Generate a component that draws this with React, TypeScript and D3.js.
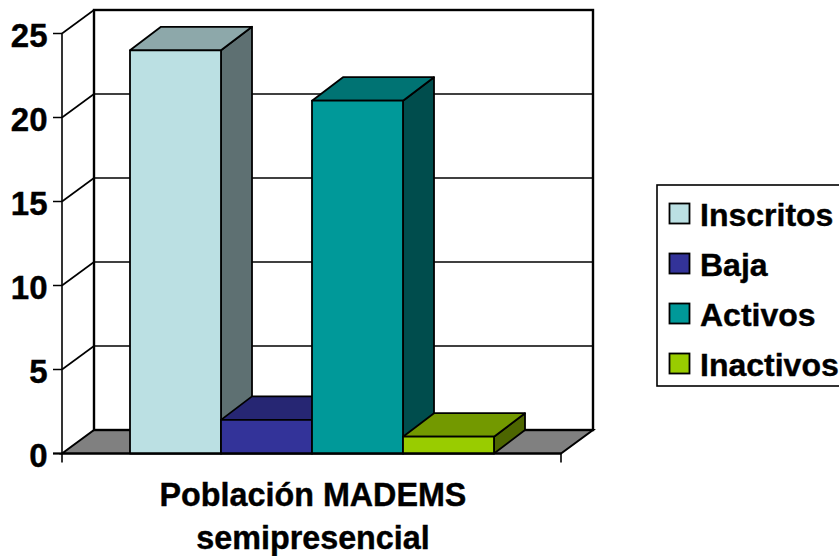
import React from "react";
import * as d3 from "d3";

const seriesNames = ["Inscritos", "Baja", "Activos", "Inactivos"];
const seriesValues = [24, 2, 21, 1];
const frontColors = ["#BBE0E3", "#333399", "#009999", "#99CC00"];
const topColors = ["#8DA8AA", "#262673", "#007373", "#739900"];
const sideColors = ["#5E7072", "#1A1A4D", "#004D4D", "#4D6600"];
const yTicks = [0, 5, 10, 15, 20, 25];
const categoryLines = ["Población MADEMS", "semipresencial"];

const FONT = "'Liberation Sans', Arial, sans-serif";
const DX = 32;
const DY = 23.5;
const y = d3.scaleLinear().domain([0, 25]).range([453.5, 33.5]);
const x = d3.scaleBand().domain(seriesNames).range([130, 494]);
const X0 = 62;
const X1 = 561;
const INK = "#000";

export default function App() {
  const line = d3.line();
  const poly = (pts: [number, number][]) => line(pts) + "Z";
  return (
    <svg width={839} height={556} style={{ position: "absolute", left: 0, top: 0, background: "#fff" }} fontFamily={FONT} fontWeight="bold">
      {/* floor */}
      <path d={poly([[X0, y(0)], [X0 + DX, y(0) - DY], [X1 + DX, y(0) - DY], [X1, y(0)]])} fill="#808080" stroke={INK} strokeWidth={2} />
      {/* back wall */}
      <rect x={X0 + DX} y={y(25) - DY} width={X1 - X0} height={y(0) - y(25)} fill="#fff" stroke={INK} strokeWidth={2.4} />
      <line x1={X0} x2={X0} y1={y(25)} y2={y(0) + 9} stroke={INK} strokeWidth={1.6} />
      {yTicks.map((t) => (
        <g key={t}>
          {t > 0 && t < 25 && (
            <line x1={X0 + DX} x2={X1 + DX} y1={y(t) - DY} y2={y(t) - DY} stroke={INK} strokeWidth={1.5} />
          )}
          {t > 0 && <line x1={X0} x2={X0 + DX} y1={y(t)} y2={y(t) - DY} stroke={INK} strokeWidth={1.6} />}
          <line x1={X0 - 9} x2={X0} y1={y(t)} y2={y(t)} stroke={INK} strokeWidth={1.5} />
          <text x={47.5} y={y(t) + 13} textAnchor="end" fontSize={33} fill={INK} stroke={INK} strokeWidth={0.4}>
            {t}
          </text>
        </g>
      ))}
      {/* bars */}
      {seriesNames.map((name, i) => {
        const bx = x(name) as number;
        const bw = x.bandwidth();
        const top = y(seriesValues[i]);
        const base = y(0);
        return (
          <g key={name} stroke={INK} strokeWidth={1.8} strokeLinejoin="round">
            <path d={poly([[bx + bw, top], [bx + bw + DX - 1, top - DY], [bx + bw + DX - 1, base - DY], [bx + bw, base]])} fill={sideColors[i]} />
            <path d={poly([[bx, top], [bx + DX - 1, top - DY], [bx + bw + DX - 1, top - DY], [bx + bw, top]])} fill={topColors[i]} />
            <rect x={bx} y={top} width={bw} height={base - top} fill={frontColors[i]} />
          </g>
        );
      })}
      {/* front baseline */}
      <line x1={X0 - 9} x2={X1} y1={y(0)} y2={y(0)} stroke={INK} strokeWidth={2.2} />
      <line x1={X1} x2={X1} y1={y(0)} y2={y(0) + 9} stroke={INK} strokeWidth={1.6} />
      {/* category label */}
      {categoryLines.map((l, i) => (
        <text key={l} x={313} y={506 + i * 43} textAnchor="middle" fontSize={32.3} fill={INK} stroke={INK} strokeWidth={0.4}>
          {l}
        </text>
      ))}
      {/* legend */}
      <rect x={657} y={185} width={200} height={201} fill="#fff" stroke={INK} strokeWidth={1.6} />
      {seriesNames.map((name, i) => (
        <g key={name}>
          <rect x={669.5} y={203.5 + i * 50} width={20} height={20} fill={frontColors[i]} stroke={INK} strokeWidth={1.8} />
          <text x={700} y={226 + i * 50} fontSize={32} fill={INK} stroke={INK} strokeWidth={0.4}>
            {name}
          </text>
        </g>
      ))}
    </svg>
  );
}
